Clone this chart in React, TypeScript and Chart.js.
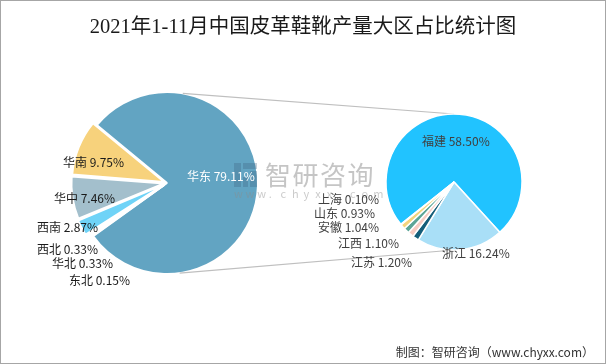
import { useEffect, useRef } from 'react';
import { Chart, registerables } from 'chart.js';

Chart.register(...registerables);

// ---- data ----
const regionLabels = ['华东', '东北', '华北', '西北', '西南', '华中', '华南'];
const regionValues = [79.11, 0.15, 0.33, 0.33, 2.87, 7.46, 9.75];
const provinceLabels = ['福建', '浙江', '江苏', '江西', '安徽', '山东', '上海'];
const provinceValues = [58.5, 16.24, 1.2, 1.1, 1.04, 0.93, 0.1];

// ---- styles / layout ----
const regionColors = ['#62A4C2', '#1F5F7A', '#F6C9C1', '#5AA596', '#6FD3F7', '#A3BFCC', '#F7D27C'];
const provinceColors = ['#21C3FF', '#A9DFF7', '#155E7A', '#F7CCC3', '#5BA597', '#F4D47E', '#A3BFCC'];
const regionOffsets = [0, 12, 12, 12, 12, 12, 12];
// label text-left / middle offsets from each pie centre
const regionLabelPos: [number, number][] = [[20, -7], [-98, 97], [-115, 80], [-130, 66], [-130, 44], [-113, 15], [-104, -21]];
const provinceLabelPos: [number, number][] = [[-32, -41], [-12, 71], [-103, 80], [-116, 61], [-136, 45], [-140, 31], [-136, 17]];
const regionLabelColors = ['#FFFFFF', '#1A1A1A', '#1A1A1A', '#1A1A1A', '#1A1A1A', '#1A1A1A', '#1A1A1A'];

const W = 606;
const H = 364;
const FONT = '"Noto Sans CJK SC", "Noto Sans", sans-serif';

function labelPlugin(id: string, labels: string[], values: number[], pos: [number, number][], colors: string[] | string, weight: string) {
  return {
    id,
    afterDatasetsDraw(chart: any) {
      const meta = chart.getDatasetMeta(0);
      const arc = meta.data[0];
      if (!arc) return;
      const cx = arc.x;
      const cy = arc.y;
      const ctx = chart.ctx;
      ctx.save();
      ctx.font = `${weight} 12px ${FONT}`;
      ctx.textAlign = 'left';
      ctx.textBaseline = 'middle';
      labels.forEach((l, i) => {
        ctx.fillStyle = Array.isArray(colors) ? colors[i] : colors;
        ctx.fillText(`${l} ${values[i].toFixed(2)}%`, cx + pos[i][0], cy + pos[i][1]);
      });
      ctx.restore();
    },
  };
}

const watermarkPlugin = {
  id: 'watermark',
  afterDatasetsDraw(chart: any) {
    const ctx = chart.ctx;
    ctx.save();
    // logo
    ctx.fillStyle = 'rgba(60,95,125,0.3)';
    ctx.fillRect(234, 163, 7, 24);
    ctx.fillRect(243, 163, 14, 6);
    ctx.fillRect(250, 171, 7, 16);
    ctx.fillRect(243, 177, 5, 10);
    ctx.fillStyle = 'rgba(140,140,140,0.5)';
    ctx.font = `26px ${FONT}`;
    ctx.textBaseline = 'middle';
    ctx.textAlign = 'left';
    const t = '智研咨询';
    for (let i = 0; i < t.length; i++) {
      ctx.fillText(t[i], 265 + i * 27.5, 175);
    }
    ctx.font = `11px ${FONT}`;
    ctx.fillStyle = 'rgba(140,140,140,0.45)';
    const s = 'www.chyxx.com';
    for (let i = 0; i < s.length; i++) {
      ctx.fillText(s[i], 234 + i * 11.6, 194);
    }
    ctx.restore();
  },
};

export default function App() {
  const leftRef = useRef<HTMLCanvasElement>(null);
  const rightRef = useRef<HTMLCanvasElement>(null);

  useEffect(() => {
    document.body.style.margin = '0';
    const left = new Chart(leftRef.current!, {
      type: 'pie',
      data: {
        labels: regionLabels,
        datasets: [{
          data: regionValues,
          backgroundColor: regionColors,
          borderColor: '#FFFFFF',
          borderWidth: 2,
          offset: regionOffsets,
        }],
      },
      options: {
        responsive: false,
        animation: false,
        rotation: -50.5,
        radius: 91,
        layout: { padding: { left: 0, right: W - 334, top: 2, bottom: 0 } },
        plugins: { legend: { display: false }, tooltip: { enabled: false } },
      } as any,
      plugins: [watermarkPlugin, labelPlugin('leftLabels', regionLabels, regionValues, regionLabelPos, regionLabelColors, 'normal')],
    });

    const connectorPlugin = {
      id: 'connectors',
      beforeDatasetsDraw(chart: any) {
        const la = left.getDatasetMeta(0).data[0] as any;
        const ra = chart.getDatasetMeta(0).data[0];
        if (!la || !ra) return;
        const R1 = la.outerRadius;
        const R2 = ra.outerRadius;
        const ctx = chart.ctx;
        ctx.save();
        ctx.strokeStyle = '#BFBFBF';
        ctx.lineWidth = 1.2;
        const a1 = (10 * Math.PI) / 180;
        const a2 = (172 * Math.PI) / 180;
        ctx.beginPath();
        ctx.moveTo(la.x + R1 * Math.sin(a1), la.y - R1 * Math.cos(a1));
        ctx.lineTo(ra.x, ra.y - R2);
        ctx.moveTo(la.x + R1 * Math.sin(a2), la.y - R1 * Math.cos(a2));
        ctx.lineTo(ra.x, ra.y + R2);
        ctx.stroke();
        ctx.restore();
      },
    };

    const right = new Chart(rightRef.current!, {
      type: 'pie',
      data: {
        labels: provinceLabels,
        datasets: [{
          data: provinceValues,
          backgroundColor: provinceColors,
          borderColor: '#FFFFFF',
          borderWidth: 1.5,
        }],
      },
      options: {
        responsive: false,
        animation: false,
        rotation: -128.5,
        radius: 68,
        layout: { padding: { left: 302, right: 0, top: 0, bottom: 0 } },
        plugins: { legend: { display: false }, tooltip: { enabled: false } },
      } as any,
      plugins: [connectorPlugin, labelPlugin('rightLabels', provinceLabels, provinceValues, provinceLabelPos, '#404040', 'normal')],
    });

    return () => {
      right.destroy();
      left.destroy();
    };
  }, []);

  return (
    <div style={{ position: 'relative', width: W, height: H, boxSizing: 'border-box', border: '1px solid #A6A6A6', background: '#fff', overflow: 'hidden' }}>
      <canvas ref={leftRef} width={W} height={H} style={{ position: 'absolute', left: -1, top: -1 }} />
      <canvas ref={rightRef} width={W} height={H} style={{ position: 'absolute', left: -1, top: -1 }} />
      <div style={{ position: 'absolute', left: 0, top: 14, width: W - 2, textAlign: 'center', fontFamily: '"Liberation Serif", "Noto Sans CJK SC", serif', fontSize: 20.5, lineHeight: '22px', color: '#1a1a1a' }}>
        2021年1-11月中国皮革鞋靴产量大区占比统计图
      </div>
      <div style={{ position: 'absolute', right: 11, top: 343, fontFamily: '"Noto Sans CJK SC", sans-serif', fontSize: 12, lineHeight: '16px', color: '#333', whiteSpace: 'nowrap' }}>
        制图：智研咨询（www.chyxx.com）
      </div>
    </div>
  );
}
